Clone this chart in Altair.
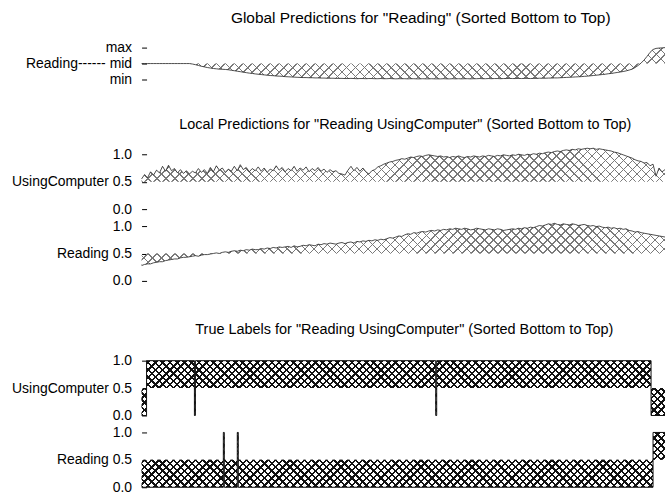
import altair as alt
import pandas as pd

# ---------------- data ----------------
N_SAMPLES = 525          # number of sorted samples along x
PRED_STEP = 3            # predictions are shown every 3rd sample

# global prediction for "Reading" (in hundredths, min=-100, mid=0, max=100)
global_reading = [
    0, 0, 0, 0, 0, 0, 0, 0, 0, 0, 0, 0, 0, 0, 0, 0, 0,
    -3, -7, -12, -17, -21, -25, -28, -31, -33, -35,
    -36, -37, -39, -42, -45, -48, -51, -54, -57, -60,
    -62, -65, -67, -69, -71, -73, -75, -76, -78, -79,
    -80, -82, -83, -84, -85, -86, -87, -88, -88, -89,
    -89, -90, -90, -91, -91, -92, -92, -92, -93, -93,
    -93, -94, -94, -93, -94, -95, -94, -94, -95, -94,
    -94, -95, -95, -94, -95, -95, -94, -95, -96, -95,
    -95, -95, -96, -95, -95, -96, -96, -95, -96, -96,
    -95, -96, -96, -96, -95, -96, -96, -95, -96, -95,
    -96, -95, -95, -96, -95, -95, -94, -95, -95, -94,
    -95, -94, -94, -95, -94, -94, -93, -94, -94, -93,
    -94, -93, -93, -94,
    -93, -93, -92, -92, -92, -91, -91, -90, -90, -89,
    -88, -87, -86, -85, -84, -83, -82, -80, -79, -77,
    -75, -73, -71, -69, -67, -64, -62, -59, -56, -53,
    -50, -46, -41, -35, -25, -12, 3, 22, 45, 70,
    88, 95, 97, 98, 100,
]

# local predictions (in hundredths)
local_usingcomputer = [
    55, 63, 57, 68, 62, 71, 66, 78, 69, 80,
    70, 74, 66, 72, 65, 70, 64, 69, 66, 74,
    67, 72, 65, 76, 68, 79, 71, 75, 67, 73,
    69, 78, 70, 81, 72, 76, 68, 74, 70, 77,
    69, 75, 67, 73, 70, 79, 71, 76, 68, 74,
    70, 78, 69, 75, 71, 77, 68, 74, 70, 76,
    69, 73, 67, 72, 68, 70, 65, 64, 62, 71,
    78, 70, 76, 69, 75, 68, 64, 70, 72, 77,
    79, 82, 84, 86, 87, 89, 90, 92, 91, 93,
    95, 94, 96, 97, 96, 98, 99, 98, 97, 96,
    97, 95, 96, 94, 96, 95, 97, 95, 94, 96,
    95, 97, 96, 95, 97, 96, 98, 97, 96, 98,
    97, 99, 98, 97, 99, 98, 100, 99, 98, 100,
    99, 101, 100, 102, 101, 103, 104, 103, 105, 106,
    105, 107, 108, 107, 109, 108, 110, 109, 110, 111,
    110, 111, 109, 110, 109, 108, 107, 106, 104, 103,
    101, 99, 97, 95, 93, 90, 88, 87, 84, 85,
    79, 82, 60, 75, 68, 72,
]

local_reading = [
    28, 30, 31, 31, 33, 34, 35, 35, 37, 38,
    39, 40, 40, 42, 43, 43, 44, 45, 46, 45,
    47, 48, 48, 49, 50, 51, 50, 52, 53, 52,
    54, 55, 54, 56, 55, 57, 56, 58, 57, 57,
    59, 58, 60, 59, 61, 60, 62, 61, 62, 63,
    61, 64, 62, 63, 65, 64, 66, 65, 64, 67,
    66, 68, 67, 69, 68, 67, 69, 70, 68, 70,
    71, 69, 72, 71, 73, 72, 74, 73, 75, 74,
    76, 75, 77, 79, 78, 80, 82, 81, 84, 86,
    85, 88, 87, 89, 90, 89, 91, 92, 91, 93,
    92, 94, 93, 95, 94, 96, 95, 94, 96, 95,
    93, 94, 96, 95, 94, 93, 95, 94, 93, 95,
    94, 92, 93, 94, 95, 94, 96, 95, 97, 96,
    98, 97, 99, 101, 100, 102, 104, 103, 105, 103,
    102, 104, 103, 102, 104, 103, 101, 102, 103, 101,
    100, 101, 99, 100, 98, 97, 98, 96, 97, 95,
    96, 94, 95, 92, 91, 89, 90, 88, 87, 86,
    85, 84, 83, 82, 81, 80,
]

# true labels as runs of samples
true_uc_start = [0, 5, 53, 54, 295, 296, 511]
true_uc_end = [5, 53, 54, 295, 296, 511, 525]
true_uc_label = [0, 1, 0, 1, 0, 1, 0]

true_rd_start = [0, 82, 83, 96, 97, 513]
true_rd_end = [82, 83, 96, 97, 513, 525]
true_rd_label = [0, 1, 0, 1, 0, 1]

# ---------------- styling ----------------
FONT = "Liberation Sans"
PLOT_W = 525
SPACING = 17
TITLE_SIZE = 14.5
TRANSP = "rgba(255,255,255,0)"


def hatch(W, H, period, width, color, rising):
    """Diagonal stripe gradient (bbox units) giving 45-degree lines."""
    W = max(W, 1.0)
    H = max(H, 1.0)
    L = W + H
    r = H / W
    k = L / (W * (1 + r * r))
    if rising:
        x1, y1, x2, y2 = 0, 0, k, k * r
    else:
        x1, y1, x2, y2 = 0, 1, k, 1 - k * r
    stops = []
    j = 0
    while True:
        a = (j * period) / L
        b = (j * period + width) / L
        if b > 1:
            break
        stops += [{"offset": a, "color": TRANSP}, {"offset": a, "color": color},
                  {"offset": b, "color": color}, {"offset": b, "color": TRANSP}]
        j += 1
    return {"gradient": "linear", "x1": x1, "y1": y1, "x2": x2, "y2": y2,
            "stops": stops}


def pred_df(vals):
    return pd.DataFrame({"x": [PRED_STEP * i for i in range(len(vals))],
                         "v": [v / 100 for v in vals]})


x_scale = alt.Scale(domain=[0, N_SAMPLES], nice=False, zero=False)


def y_axis(values, expr):
    return alt.Axis(values=values, labelExpr=expr, title=None, domain=False,
                    grid=False, ticks=True, tickSize=5, tickColor="black",
                    tickWidth=1, offset=-5, labelPadding=10, labelFontSize=14,
                    labelFont=FONT, labelColor="black", labelOverlap=False,
                    labelBound=False, labelFlush=False)


def title(text, offset, dx, size=TITLE_SIZE):
    return alt.TitleParams(text=text, anchor="middle", frame="group", dx=dx,
                           offset=offset, font=FONT, fontSize=size,
                           fontWeight="normal", color="black")


def pred_panel(vals, height, base, domain, values, expr):
    df = pred_df(vals)
    yscale = alt.Scale(domain=list(domain), nice=False, zero=False)
    axis = y_axis(list(values), expr)
    px = height / (domain[1] - domain[0])
    vv = [v / 100 for v in vals]
    hbox = (max(max(vv), base) - min(min(vv), base)) * px
    wbox = PRED_STEP * (len(vals) - 1) * PLOT_W / N_SAMPLES
    enc = dict(x=alt.X("x:Q", scale=x_scale, axis=None),
               y=alt.Y("v:Q", scale=yscale, axis=axis),
               y2=alt.datum(base))
    layers = [
        alt.Chart(df).mark_area(fill=hatch(wbox, hbox, 9, 1.5, "#7a7a7a", r),
                                strokeWidth=0).encode(**enc)
        for r in (True, False)
    ]
    layers.append(alt.Chart(df).mark_line(color="#222222", strokeWidth=0.8).encode(
        x=alt.X("x:Q", scale=x_scale, axis=None),
        y=alt.Y("v:Q", scale=yscale, axis=axis)))
    return alt.layer(*layers).properties(width=PLOT_W, height=height)


def true_panel(s, e, lab, expr, height):
    df = pd.DataFrame({"x": list(s) + [e[-1]], "label": list(lab) + [lab[-1]]})
    yscale = alt.Scale(domain=[0, 1], nice=False)
    axis = y_axis([0, 0.5, 1], expr)
    hbox = (max(max(lab), 0.5) - min(min(lab), 0.5)) * height
    enc = dict(x=alt.X("x:Q", scale=x_scale, axis=None),
               y=alt.Y("label:Q", scale=yscale, axis=axis),
               y2=alt.datum(0.5))
    layers = [
        alt.Chart(df).mark_area(fill=hatch(PLOT_W, hbox, 7.3, 2.4, "#111111", r),
                                interpolate="step-after", strokeWidth=0).encode(**enc)
        for r in (True, False)
    ]
    layers.append(alt.Chart(df).mark_line(color="#111111", strokeWidth=1,
                                          interpolate="step-after").encode(
        x=alt.X("x:Q", scale=x_scale, axis=None),
        y=alt.Y("label:Q", scale=yscale, axis=axis)))
    return alt.layer(*layers).properties(width=PLOT_W, height=height)


def label_expr(name):
    return "datum.value == 0.5 ? '" + name + " 0.5' : format(datum.value, '.1f')"


# extra space under a panel (before the next titled block) is obtained by
# extending the lower end of its y domain
GLOBAL_H = 32
GLOBAL_EXTRA = 75 - SPACING
global_chart = pred_panel(
    global_reading, GLOBAL_H + GLOBAL_EXTRA, 0,
    (-1 - 2 * GLOBAL_EXTRA / GLOBAL_H, 1), (-1, 0, 1),
    "datum.value == 1 ? 'max' : datum.value == 0 ? 'Reading------ mid' : 'min'",
).properties(title=title('Global Predictions for "Reading" (Sorted Bottom to Top)',
                         14, 17.5, 15.5))

LOCAL_H = 55
LOCAL_EXTRA = 80 - SPACING
local_uc = pred_panel(local_usingcomputer, LOCAL_H, 0.5, (0, 1), (0, 0.5, 1),
                      label_expr("UsingComputer")).properties(
    title=title('Local Predictions for "Reading UsingComputer" (Sorted Bottom to Top)', 14, 2))
local_rd = pred_panel(local_reading, LOCAL_H + LOCAL_EXTRA, 0.5,
                      (-LOCAL_EXTRA / LOCAL_H, 1), (0, 0.5, 1),
                      label_expr("Reading"))

true_uc = true_panel(true_uc_start, true_uc_end, true_uc_label,
                     label_expr("UsingComputer"), 55).properties(
    title=title('True Labels for "Reading UsingComputer" (Sorted Bottom to Top)', 16, 1))
true_rd = true_panel(true_rd_start, true_rd_end, true_rd_label,
                     label_expr("Reading"), 55)

chart = alt.vconcat(
    global_chart, local_uc, local_rd, true_uc, true_rd,
    spacing=SPACING, bounds="flush",
).properties(
    padding={"left": 11, "top": 10, "right": 0, "bottom": 0},
).configure_view(stroke=None)

chart.save("out.html", embed_options={"renderer": "svg", "actions": False})
